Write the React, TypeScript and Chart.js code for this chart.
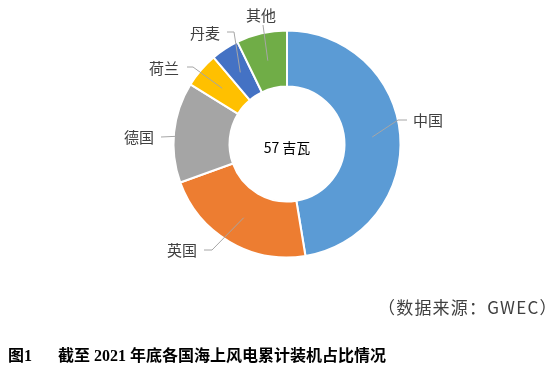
import React, { useEffect, useRef } from "react";
import { Chart, registerables } from "chart.js";

Chart.register(...registerables);

const categories = ["中国", "英国", "德国", "荷兰", "丹麦", "其他"];
const shares = [47.4, 22.1, 14.3, 5.0, 4.0, 7.2];
const colors = ["#5B9BD5", "#ED7D31", "#A5A5A5", "#FFC000", "#4472C4", "#70AD47"];
const centerLabel = "57 吉瓦";
const sourceNote = "（数据来源：GWEC）";
const figureNo = "图1";
const figureTitle = "截至 2021 年底各国海上风电累计装机占比情况";

// label placement, offsets from the doughnut centre (text centre, line end, elbow)
const labelLayout: { text: [number, number]; anchor: [number, number]; elbow: [number, number] }[] = [
  { text: [141, -24], anchor: [120, -24], elbow: [111, -24] },
  { text: [-105, 106], anchor: [-83, 106], elbow: [-75, 106] },
  { text: [-148, -7], anchor: [-126, -7], elbow: [-126, -7] },
  { text: [-123, -76], anchor: [-100, -77], elbow: [-94, -77] },
  { text: [-82, -111], anchor: [-60, -112], elbow: [-53, -112] },
  { text: [-26, -129], anchor: [-24, -119], elbow: [-24, -119] },
];

const CJK = '"Noto Sans CJK SC", "Noto Sans", sans-serif';

const leaderLabels = {
  id: "leaderLabels",
  afterDatasetsDraw(chart: any) {
    const ctx = chart.ctx as CanvasRenderingContext2D;
    const meta = chart.getDatasetMeta(0);
    let cx = 0;
    let cy = 0;
    meta.data.forEach((arc: any, i: number) => {
      const p = arc.getProps(["x", "y", "startAngle", "endAngle", "innerRadius", "outerRadius"], true);
      cx = p.x;
      cy = p.y;
      const mid = (p.startAngle + p.endAngle) / 2;
      const r = (p.innerRadius + p.outerRadius) / 2;
      const sx = p.x + Math.cos(mid) * r;
      const sy = p.y + Math.sin(mid) * r;
      const L = labelLayout[i];
      ctx.save();
      ctx.strokeStyle = "#A6A6A6";
      ctx.lineWidth = 1;
      ctx.beginPath();
      ctx.moveTo(sx, sy);
      ctx.lineTo(p.x + L.elbow[0], p.y + L.elbow[1]);
      ctx.lineTo(p.x + L.anchor[0], p.y + L.anchor[1]);
      ctx.stroke();
      ctx.fillStyle = "#404040";
      ctx.font = `15px ${CJK}`;
      ctx.textAlign = "center";
      ctx.textBaseline = "middle";
      ctx.fillText(categories[i], p.x + L.text[0], p.y + L.text[1]);
      ctx.restore();
    });
    ctx.save();
    ctx.fillStyle = "#000000";
    ctx.font = `14px ${CJK}`;
    ctx.textAlign = "center";
    ctx.textBaseline = "middle";
    ctx.fillText(centerLabel, cx, cy + 4);
    ctx.restore();
  },
};

export default function App() {
  const ref = useRef<HTMLCanvasElement | null>(null);
  useEffect(() => {
    if (!ref.current) return;
    const chart = new Chart(ref.current, {
      type: "doughnut",
      data: {
        labels: categories,
        datasets: [
          {
            data: shares,
            backgroundColor: colors,
            borderColor: "#FFFFFF",
            borderWidth: 2,
          },
        ],
      },
      options: {
        animation: false,
        responsive: false,
        devicePixelRatio: 1,
        radius: 113.5,
        cutout: "50.66%",
        layout: { padding: { left: 172, right: 152, top: 29, bottom: 112 } },
        plugins: { legend: { display: false }, tooltip: { enabled: false } },
      },
      plugins: [leaderLabels],
    });
    return () => chart.destroy();
  }, []);

  return (
    <div style={{ position: "absolute", left: 0, top: 0, width: 554, height: 371, background: "#fff" }}>
      <canvas ref={ref} width={554} height={371} style={{ position: "absolute", left: 0, top: 0 }} />
      <div
        style={{
          position: "absolute",
          left: 378,
          top: 294,
          font: `17px ${CJK}`,
          lineHeight: "25px",
          letterSpacing: "1.2px",
          color: "#404040",
          whiteSpace: "nowrap",
          ...({ textSpacingTrim: "space-all" } as any),
        }}
      >
        {sourceNote}
      </div>
      <div
        style={{
          position: "absolute",
          left: 8,
          top: 346,
          font: `bold 16px "Liberation Serif", "Noto Sans CJK SC", serif`,
          lineHeight: "20px",
          color: "#000",
          whiteSpace: "nowrap",
        }}
      >
        {figureNo}
      </div>
      <div
        style={{
          position: "absolute",
          left: 58,
          top: 346,
          font: `bold 16px "Liberation Serif", "Noto Sans CJK SC", serif`,
          lineHeight: "20px",
          color: "#000",
          whiteSpace: "nowrap",
        }}
      >
        {figureTitle}
      </div>
    </div>
  );
}
